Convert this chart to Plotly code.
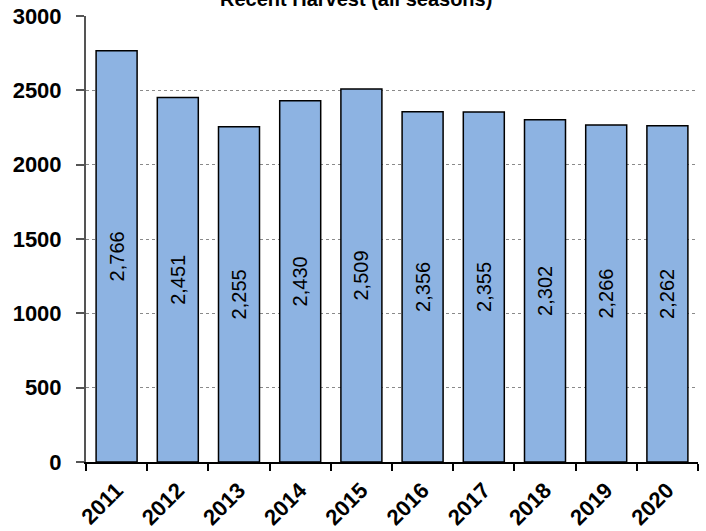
import plotly.graph_objects as go

years = ["2011", "2012", "2013", "2014", "2015", "2016", "2017", "2018", "2019", "2020"]
harvest = [2766, 2451, 2255, 2430, 2509, 2356, 2355, 2302, 2266, 2262]
y_ticks = [0, 500, 1000, 1500, 2000, 2500, 3000]

fig = go.Figure(
    go.Bar(
        x=years,
        y=harvest,
        text=[f"{v:,}" for v in harvest],
        textposition="inside",
        insidetextanchor="middle",
        textangle=-90,
        textfont=dict(family="Arial, Liberation Sans", size=20, color="black"),
        marker=dict(color="#8DB3E2", line=dict(color="black", width=1.5)),
        cliponaxis=False,
    )
)

fig.update_layout(
    width=706,
    height=531,
    margin=dict(l=86, r=8, t=16, b=69, autoexpand=False),
    paper_bgcolor="white",
    plot_bgcolor="white",
    bargap=0.33,
    showlegend=False,
    font=dict(family="Arial, Liberation Sans", color="black"),
    annotations=[
        dict(
            text="<b>Recent Harvest (all seasons)</b>",
            xref="paper", yref="paper",
            x=0.441, y=1.0, yshift=17,
            xanchor="center", yanchor="middle",
            showarrow=False,
            font=dict(size=20, color="black"),
        )
    ],
)

fig.update_xaxes(
    type="category",
    automargin=False,
    tickson="boundaries",
    ticks="outside",
    ticklen=7,
    tickwidth=1.5,
    tickcolor="black",
    tickangle=-45,
    ticklabelstandoff=5,
    tickfont=dict(size=22, color="black", weight="bold"),
    showline=True,
    linecolor="black",
    linewidth=1.5,
    showgrid=False,
)

fig.update_yaxes(
    automargin=False,
    range=[0, 3000],
    tickvals=y_ticks,
    ticks="outside",
    ticklen=8,
    tickwidth=1.5,
    tickcolor="#555555",
    ticklabelstandoff=10,
    tickfont=dict(size=22, color="black", weight="bold"),
    showline=True,
    linecolor="#555555",
    linewidth=2,
    showgrid=True,
    gridcolor="#8a8a8a",
    griddash="dot",
    gridwidth=1,
    zeroline=False,
)

fig.write_html("out.html")
